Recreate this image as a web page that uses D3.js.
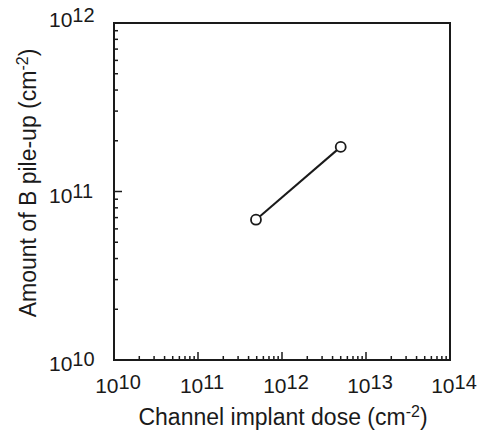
<!DOCTYPE html>
<html><head><meta charset="utf-8">
<script src="https://cdn.jsdelivr.net/npm/d3@7"></script>
<style>body{margin:0;background:#fff;}svg{display:block;font-family:"Liberation Sans",Arial,Helvetica,sans-serif;}</style>
</head><body>
<svg id="c" width="491" height="434"></svg>
<script>
// data
const doseX = [4.9e11, 5.0e12];          // channel implant dose (cm^-2)
const pileY = [6.8e10, 1.84e11];         // amount of B pile-up (cm^-2)
const xDecades = [10, 11, 12, 13, 14];
const yDecades = [10, 11, 12];
const xTitle = "Channel implant dose (cm";
const yTitle = "Amount of B pile-up (cm";

const svg = d3.select("#c");
const L = 114, R = 450, T = 23, B = 360;
const x = d3.scaleLog().domain([1e10, 1e14]).range([L, R]);
const y = d3.scaleLog().domain([1e10, 1e12]).range([B, T]);
const ink = "#1a1a1a";

// minor/major ticks (inside)
function logTicks(dom){
  const out=[];
  for(let e=Math.log10(dom[0]); e<Math.log10(dom[1]); e++){
    for(let m=1;m<10;m++) out.push({v:m*Math.pow(10,e), major:m===1});
  }
  out.push({v:dom[1],major:true});
  return out;
}
const g = svg.append("g");
logTicks(x.domain()).forEach(t=>{
  const len = t.major?8:4;
  g.append("line").attr("x1",x(t.v)).attr("x2",x(t.v)).attr("y1",B).attr("y2",B-len)
   .attr("stroke",ink).attr("stroke-width",1.5);
});
logTicks(y.domain()).forEach(t=>{
  const len = t.major?8:4;
  g.append("line").attr("y1",y(t.v)).attr("y2",y(t.v)).attr("x1",L).attr("x2",L+len)
   .attr("stroke",ink).attr("stroke-width",1.5);
});

// frame
svg.append("rect").attr("x",L).attr("y",T).attr("width",R-L).attr("height",B-T)
  .attr("fill","none").attr("stroke",ink).attr("stroke-width",2);

// x tick labels
xDecades.forEach(d=>{
  const t = svg.append("text").attr("x",x(Math.pow(10,d))+4).attr("y",393)
    .attr("text-anchor","middle").attr("font-size",21).attr("fill",ink);
  t.append("tspan").text("10");
  t.append("tspan").attr("dy",-4).attr("font-size",20).text(d);
});
// y tick labels
yDecades.forEach((d,i)=>{
  const top = i===yDecades.length-1;
  const t = svg.append("text").attr("x",49).attr("y",y(Math.pow(10,d))+(top?4:11))
    .attr("text-anchor","start").attr("font-size",21).attr("fill",ink);
  t.append("tspan").text("10");
  t.append("tspan").attr("dy",-5).attr("font-size",20).text(d);
});

// titles
const xt = svg.append("text").attr("x",(L+R)/2+1).attr("y",425).attr("text-anchor","middle")
  .attr("font-size",23).attr("fill",ink);
xt.append("tspan").text(xTitle);
xt.append("tspan").attr("dy",-8).attr("font-size",16).text("-2");
xt.append("tspan").attr("dy",8).text(")");

const yt = svg.append("text").attr("transform","translate(36,183) rotate(-90)").attr("text-anchor","middle")
  .attr("font-size",23).attr("fill",ink);
yt.append("tspan").text(yTitle);
yt.append("tspan").attr("dy",-8).attr("font-size",16).text("-2");
yt.append("tspan").attr("dy",8).text(")");

// data line + markers
const pts = doseX.map((v,i)=>[v,pileY[i]]);
svg.append("path").datum(pts)
  .attr("d", d3.line().x(d=>x(d[0])).y(d=>y(d[1])))
  .attr("fill","none").attr("stroke",ink).attr("stroke-width",2);
svg.selectAll("circle.p").data(pts).join("circle").attr("class","p")
  .attr("cx",d=>x(d[0])).attr("cy",d=>y(d[1])).attr("r",5)
  .attr("fill","#fff").attr("stroke",ink).attr("stroke-width",1.8);
</script>
</body></html>
